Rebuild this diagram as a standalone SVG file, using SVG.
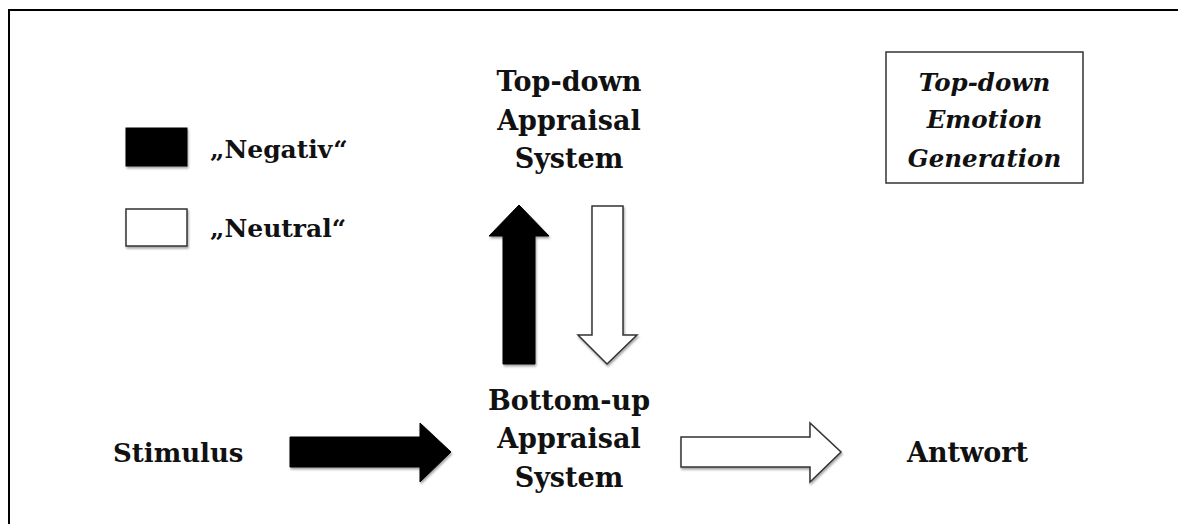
<svg xmlns="http://www.w3.org/2000/svg" width="1178" height="524" viewBox="0 0 1178 524">
  <defs>
    <filter id="sh" x="-20%" y="-20%" width="140%" height="140%">
      <feDropShadow dx="1" dy="2" stdDeviation="1.2" flood-color="#000" flood-opacity="0.35"/>
    </filter>
  </defs>
  <style>
    .t { font-family: "DejaVu Serif", "Liberation Serif", serif; font-weight: bold; font-size: 27px; fill: #111; }
    .c { text-anchor: middle; }
    .i { font-style: italic; font-size: 24.5px; }
    .lg { font-size: 25px; }
    .sm { font-size: 26px; }
    .blk { fill: #000; stroke: #000; stroke-width: 1; filter: url(#sh); }
    .wht { fill: #fff; stroke: #333; stroke-width: 1.5; filter: url(#sh); }
  </style>
  <rect x="0" y="0" width="1178" height="524" fill="#fff"/>
  <rect id="frame" x="9" y="10" width="1200" height="600" fill="none" stroke="#000" stroke-width="2"/>

  <g id="legend">
    <rect class="blk" x="126" y="128" width="61" height="38"/>
    <text class="t lg" x="210" y="158">„Negativ“</text>
    <rect class="wht" x="126" y="209" width="61" height="37"/>
    <text class="t lg" x="210" y="237">„Neutral“</text>
  </g>

  <g id="topdown">
    <text class="t c" x="569" y="91">Top-down</text>
    <text class="t c" x="569" y="130">Appraisal</text>
    <text class="t c" x="569" y="168">System</text>
  </g>

  <g id="emotion-box">
    <rect x="886" y="52" width="197" height="131" fill="#fff" stroke="#333" stroke-width="1.5"/>
    <text class="t c i" x="984.5" y="91">Top-down</text>
    <text class="t c i" x="984.5" y="128">Emotion</text>
    <text class="t c i" x="984.5" y="167">Generation</text>
  </g>

  <g id="bottomup">
    <text class="t c" x="569" y="410">Bottom-up</text>
    <text class="t c" x="569" y="448">Appraisal</text>
    <text class="t c" x="569" y="487">System</text>
  </g>

  <g id="stimulus">
    <text class="t sm" x="113" y="462">Stimulus</text>
  </g>

  <g id="antwort">
    <text class="t" x="907" y="462">Antwort</text>
  </g>

  <g id="connectors">
    <polygon class="blk" points="503,364 503,236 489,236 519,205 549,236 535,236 535,364"/>
    <polygon class="wht" points="592,206 623,206 623,335 637,335 607,364 578,335 592,335"/>
    <polygon class="blk" points="290,437 420,437 420,423 451,452 420,482 420,467 290,467"/>
    <polygon class="wht" points="681,437 810,437 810,423 841,452 810,482 810,467 681,467"/>
  </g>
</svg>
